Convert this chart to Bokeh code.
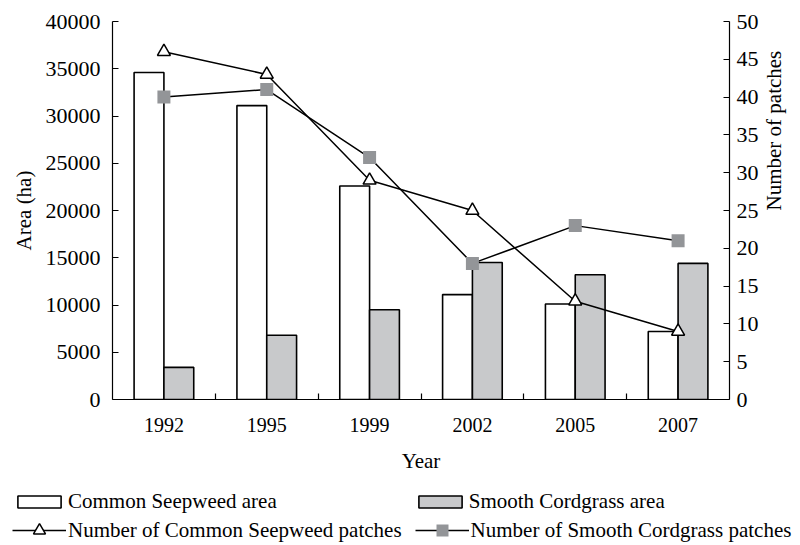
from bokeh.plotting import figure
from bokeh.models import (Range1d, LinearAxis, FixedTicker, Legend, LegendItem,
                          ColumnDataSource)
from bokeh.layouts import column
from bokeh.transform import dodge
from bokeh.embed import file_html
from bokeh.resources import INLINE
import math

# ---- data ----
years = ["1992", "1995", "1999", "2002", "2005", "2007"]
seepweed_area = [34600, 31100, 22600, 11100, 10100, 7200]
cordgrass_area = [3400, 6800, 9500, 14500, 13200, 14400]
seepweed_patches = [46, 43, 29, 25, 13, 9]
cordgrass_patches = [40, 41, 32, 18, 23, 21]
left_ticks = [0, 5000, 10000, 15000, 20000, 25000, 30000, 35000, 40000]
right_ticks = [0, 5, 10, 15, 20, 25, 30, 35, 40, 45, 50]
series_names = ["Common Seepweed area", "Smooth Cordgrass area",
                "Number of Common Seepweed patches", "Number of Smooth Cordgrass patches"]

FONT = "Liberation Serif"
BAR_GRAY = "#c8c9cb"
MARK_GRAY = "#939598"

pos = [i + 0.5 for i in range(len(years))]
bounds = [float(i) for i in range(1, len(years))]

src = ColumnDataSource(dict(x=pos, sa=seepweed_area, ca=cordgrass_area,
                            sp=seepweed_patches, cp=cordgrass_patches))

W = 800
H1 = 475
p = figure(width=W, height=H1, output_backend="svg", toolbar_location=None,
           x_range=Range1d(0, len(years)), y_range=Range1d(0, 40000),
           x_axis_location=None, y_axis_location=None,
           min_border_left=112, min_border_right=0, min_border_top=21,
           min_border_bottom=H1 - 399)
p.frame_align = False
p.extra_y_ranges = {"n": Range1d(0, 50)}
p.outline_line_color = None
p.xgrid.visible = False
p.ygrid.visible = False
p.background_fill_color = "white"
p.border_fill_color = "white"

def style_axis(ax, size):
    ax.axis_line_color = "black"
    ax.axis_line_width = 1.2
    ax.major_label_text_font = FONT
    ax.major_label_text_font_size = size
    ax.major_label_text_color = "black"
    ax.axis_label_text_font = FONT
    ax.axis_label_text_font_size = "21px"
    ax.axis_label_text_font_style = "normal"
    ax.axis_label_text_color = "black"
    ax.minor_tick_line_color = None

# x axis (labels at centres, ticks at boundaries)
xax = LinearAxis(ticker=FixedTicker(ticks=pos, minor_ticks=bounds),
                 major_label_overrides={pos[i]: years[i] for i in range(len(years))},
                 axis_label="Year")
style_axis(xax, "20px")
xax.major_tick_line_color = None
xax.minor_tick_line_color = "black"
xax.minor_tick_line_width = 1.2
xax.minor_tick_in = 6
xax.minor_tick_out = 0
xax.major_label_standoff = 12
xax.axis_label_standoff = 14
p.add_layout(xax, "below")

yax = LinearAxis(ticker=FixedTicker(ticks=left_ticks), axis_label="Area (ha)")
style_axis(yax, "22px")
yax.major_tick_line_color = "black"
yax.major_tick_line_width = 1.2
yax.major_tick_in = 6
yax.major_tick_out = 0
yax.major_label_standoff = 12
yax.axis_label_standoff = 7
p.add_layout(yax, "left")

rax = LinearAxis(y_range_name="n", ticker=FixedTicker(ticks=right_ticks),
                 axis_label="Number of patches")
style_axis(rax, "22px")
rax.major_tick_line_color = "black"
rax.major_tick_line_width = 1.2
rax.major_tick_in = 6
rax.major_tick_out = 0
rax.major_label_standoff = 7
rax.axis_label_standoff = 12
rax.axis_label_orientation = math.pi / 2
p.add_layout(rax, "right")

bar1 = dict(fill_color="white", line_color="black", line_width=1.6)
bar2 = dict(fill_color=BAR_GRAY, line_color="black", line_width=1.6)
line_s = dict(line_color="black", line_width=1.5)
tri_s = dict(marker="triangle", fill_color="white", line_color="black", line_width=1.5)
sq_s = dict(marker="square", fill_color=MARK_GRAY, line_color=None)

# bars
p.vbar(x=dodge("x", -0.145, range=p.x_range), top="sa", width=0.29, source=src, **bar1)
p.vbar(x=dodge("x", 0.145, range=p.x_range), top="ca", width=0.29, source=src, **bar2)

# lines + markers
p.line("x", "cp", source=src, y_range_name="n", **line_s)
p.line("x", "sp", source=src, y_range_name="n", **line_s)
p.scatter("x", "cp", source=src, y_range_name="n", size=13, **sq_s)
p.scatter("x", "sp", source=src, y_range_name="n", size=13, **tri_s)

# ---- legend strip (separate figure below the chart) ----
H2 = 545 - H1
p2 = figure(width=W, height=H2, output_backend="svg", toolbar_location=None,
            x_axis_location=None, y_axis_location=None,
            min_border_left=0, min_border_right=0, min_border_top=0,
            min_border_bottom=0)
p2.frame_align = False
p2.outline_line_color = None
p2.xgrid.visible = False
p2.ygrid.visible = False

# hidden stand-ins (legend swatches only)
k1 = p2.vbar(x="x", top="sa", width=0.29, source=src, visible=False, **bar1)
k2 = p2.vbar(x="x", top="ca", width=0.29, source=src, visible=False, **bar2)
k3l = p2.line("x", "sp", source=src, visible=False, **line_s)
k3m = p2.scatter("x", "sp", source=src, visible=False, **tri_s)
k4l = p2.line("x", "cp", source=src, visible=False, **line_s)
k4m = p2.scatter("x", "cp", source=src, visible=False, **sq_s)

common = dict(orientation="horizontal", glyph_width=54, label_standoff=2,
              padding=0, margin=0, border_line_color=None, label_height=22,
              background_fill_alpha=0, label_text_font=FONT, click_policy="none",
              label_text_font_size="21px", label_text_color="black")

legend1 = Legend(items=[
    LegendItem(label=series_names[0], renderers=[k1]),
    LegendItem(label=series_names[1], renderers=[k2]),
], location=(12, 31), spacing=136, glyph_height=15, **common)
legend2 = Legend(items=[
    LegendItem(label=series_names[2], renderers=[k3l, k3m]),
    LegendItem(label=series_names[3], renderers=[k4l, k4m]),
], location=(12, 0), spacing=13, glyph_height=30, **common)
p2.add_layout(legend1)
p2.add_layout(legend2)

open("out.html", "w").write(file_html(column(p, p2, spacing=0), INLINE))
